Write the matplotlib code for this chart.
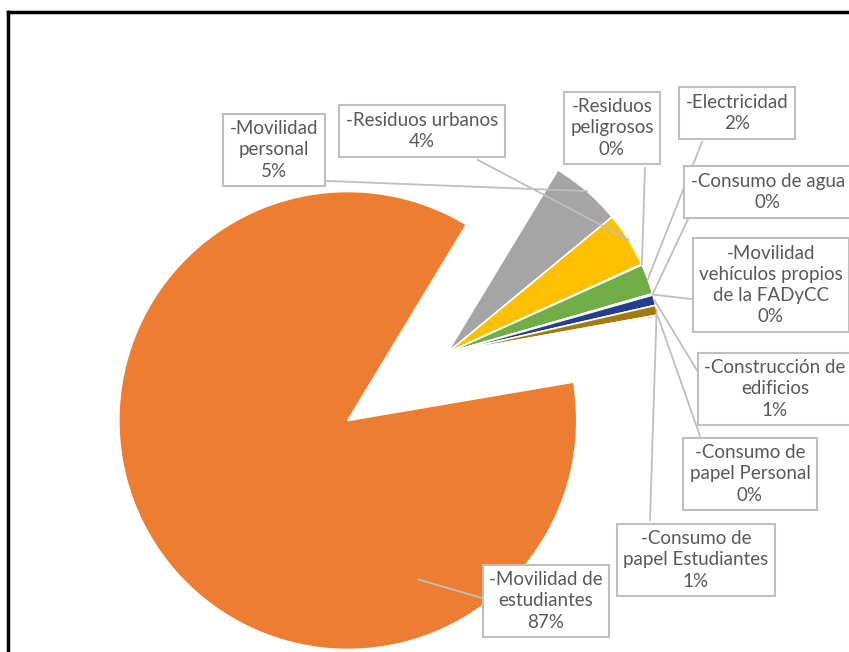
import numpy as np
import matplotlib
matplotlib.use("Agg")
import matplotlib.pyplot as plt

# ---------------------------------------------------------------
# DATA (shares in %, clockwise from the top of the small group)
# ---------------------------------------------------------------
names = [
    "-Movilidad\npersonal",
    "-Residuos urbanos",
    "-Residuos\npeligrosos",
    "-Electricidad",
    "-Consumo de agua",
    "-Movilidad\nvehículos propios\nde la FADyCC",
    "-Construcción de\nedificios",
    "-Consumo de\npapel Estudiantes",
    "-Consumo de\npapel Personal",
    "-Movilidad de\nestudiantes",
]
shares = [5.4, 4.2, 0.05, 2.3, 0.05, 0.05, 0.8, 0.75, 0.15, 87.0]
colors = ["#A5A5A5", "#FFC000", "#4472C4", "#70AD47", "#255E91",
          "#9E480E", "#253F8E", "#A27B10", "#7FA6DC", "#ED7D31"]

# label box centres and leader-line start points, image pixels (x, y from top)
box_xy = [(274, 150), (422, 131), (612, 128), (737, 113), (768, 192),
          (771, 285), (775, 389), (696, 560), (750, 474), (546, 601)]
lead_xy = [(327, 181), (478, 160), (645, 168), (702, 142), (690, 215),
           (700, 300), (712, 395), (650, 520), (700, 436), (482, 598)]

W, H = 849, 652
fig = plt.figure(figsize=(W / 100, H / 100), dpi=100)
ax = fig.add_axes([0, 0, 1, 1])

def Y(y):
    return H - y

# pie: small group drawn at its own centre, big slice pulled out
explode = [0] * (len(shares) - 1) + [120]
wedges, _ = ax.pie(shares, colors=colors, startangle=58.8, counterclock=False,
                   center=(447, Y(353)), radius=214, explode=explode,
                   wedgeprops=dict(edgecolor="white", linewidth=1.2))
wedges[-1].set_radius(229)

ax.set_xlim(0, W)
ax.set_ylim(0, H)
ax.set_aspect("equal")
ax.axis("off")

# leader lines
for i, w in enumerate(wedges):
    cx, cy = w.center
    if i == len(wedges) - 1:
        ang, rr = np.deg2rad(-66), 0.76 * w.r
    else:
        ang, rr = np.deg2rad((w.theta1 + w.theta2) / 2), w.r
    tx, ty = cx + rr * np.cos(ang), cy + rr * np.sin(ang)
    lx, ly = lead_xy[i]
    ax.plot([lx, tx], [Y(ly), ty], color="#BFBFBF", lw=1.3, zorder=3)

# label boxes
for i, (nm, v) in enumerate(zip(names, shares)):
    bx, by = box_xy[i]
    ax.text(bx, Y(by), f"{nm}\n{round(v)}%", ha="center", va="center",
            fontsize=13.5, family="Lato", color="#595959", linespacing=1.3,
            zorder=5,
            bbox=dict(boxstyle="square,pad=0.35", fc="white", ec="#BFBFBF", lw=1.5))

# black frame (top and left)
fig.add_artist(plt.Line2D([8 / W, 1], [1 - 12 / H, 1 - 12 / H], color="black", lw=2.5))
fig.add_artist(plt.Line2D([8 / W, 8 / W], [0, 1 - 12 / H], color="black", lw=2.5))

fig.savefig("out.png", dpi=100)
